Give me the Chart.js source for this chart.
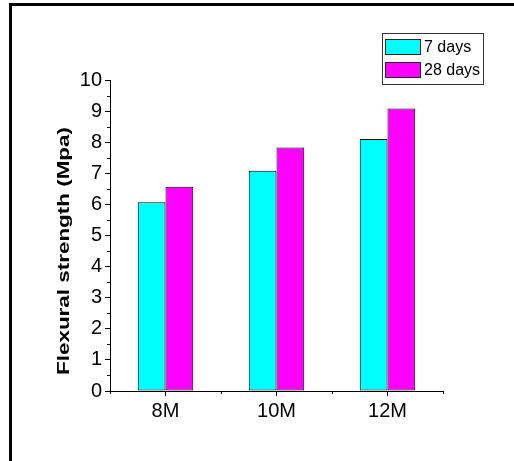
<!DOCTYPE html>
<html>
<head>
<meta charset="utf-8">
<script src="https://cdn.jsdelivr.net/npm/chart.js@4.4.1/dist/chart.umd.min.js"></script>
<style>
  html, body { margin: 0; padding: 0; background: #fff; overflow: hidden; }
  #frame { position: absolute; left: 9px; top: 3px; width: 600px; height: 600px;
           border-left: 3px solid #000; border-top: 3px solid #000; }
  #myChart { position: absolute; left: 0; top: 0; }
</style>
</head>
<body>
<div id="frame"></div>
<canvas id="myChart" width="514" height="461"></canvas>
<script>
const categories = ['8M', '10M', '12M'];
const days7 = [6.07, 7.08, 8.10];
const days28 = [6.57, 7.83, 9.08];
const seriesNames = ['7 days', '28 days'];
const yTitle = 'Flexural strength (Mpa)';

const FONT = '"Liberation Sans", Arial, sans-serif';

// legend, y title and minor ticks drawn by hand
const extras = {
  id: 'extras',
  afterDraw(chart) {
    const ctx = chart.ctx;
    const x = chart.scales.x, y = chart.scales.y;
    ctx.save();
    ctx.strokeStyle = '#000';
    ctx.lineWidth = 1;
    ctx.beginPath();
    for (let v = 0.5; v < 10; v += 1) {
      const py = Math.round(y.getPixelForValue(v)) + 0.5;
      ctx.moveTo(x.left - 3, py);
      ctx.lineTo(x.left, py);
    }
    for (let i = 0; i <= categories.length; i++) {
      const px = Math.round(x.getPixelForValue(i - 0.5)) + 0.5;
      ctx.moveTo(px, y.bottom);
      ctx.lineTo(px, y.bottom + 3);
    }
    ctx.stroke();

    // axis title, stretched like the original
    ctx.font = 'bold 17px ' + FONT;
    const w = ctx.measureText(yTitle).width;
    ctx.translate(69, 375);
    ctx.rotate(-Math.PI / 2);
    ctx.scale(248 / w, 1);
    ctx.fillStyle = '#000';
    ctx.textAlign = 'left';
    ctx.textBaseline = 'alphabetic';
    ctx.fillText(yTitle, 0, 0);
    ctx.restore();

    // legend box
    ctx.save();
    ctx.strokeStyle = '#333';
    ctx.lineWidth = 1;
    ctx.fillStyle = '#fff';
    ctx.fillRect(382.5, 33.5, 101, 51);
    ctx.strokeRect(382.5, 33.5, 101, 51);
    ctx.font = '16px ' + FONT;
    ctx.textBaseline = 'middle';
    chart.data.datasets.forEach((ds, i) => {
      const top = 39.5 + i * 23;
      ctx.fillStyle = ds.backgroundColor;
      ctx.fillRect(385.5, top, 35, 15);
      ctx.strokeStyle = '#222';
      ctx.strokeRect(385.5, top, 35, 15);
      ctx.fillStyle = '#000';
      ctx.fillText(ds.label, 424, top + 8);
    });
    ctx.restore();
  }
};

const ctxt = document.getElementById('myChart').getContext('2d');

const myChart = new Chart(ctxt, {
  type: 'bar',
  data: {
    labels: categories,
    datasets: [
      { label: seriesNames[0], data: days7, backgroundColor: '#00FFFF', borderColor: '#000', borderWidth: 1, borderSkipped: false },
      { label: seriesNames[1], data: days28, backgroundColor: '#FF00FF', borderColor: '#000', borderWidth: 1, borderSkipped: false }
    ]
  },
  options: {
    responsive: false,
    animation: false,
    devicePixelRatio: 1,
    layout: { padding: { left: 0, top: 80, right: 71, bottom: 0 } },
    datasets: { bar: { categoryPercentage: 0.5, barPercentage: 1 } },
    plugins: { legend: { display: false }, tooltip: { enabled: false } },
    scales: {
      x: {
        afterFit: (s) => { s.height = 70; },
        grid: { drawOnChartArea: false, offset: false, tickLength: 5, color: '#000' },
        border: { color: '#000', width: 1 },
        ticks: { font: { family: FONT, size: 20 }, color: '#000', padding: 3 }
      },
      y: {
        min: 0,
        max: 10,
        afterFit: (s) => { s.width = 110; },
        grid: { drawOnChartArea: false, tickLength: 5, color: '#000' },
        border: { color: '#000', width: 1 },
        ticks: { stepSize: 1, font: { family: FONT, size: 20 }, color: '#000', padding: 3 }
      }
    }
  },
  plugins: [extras]
});
</script>
</body>
</html>
